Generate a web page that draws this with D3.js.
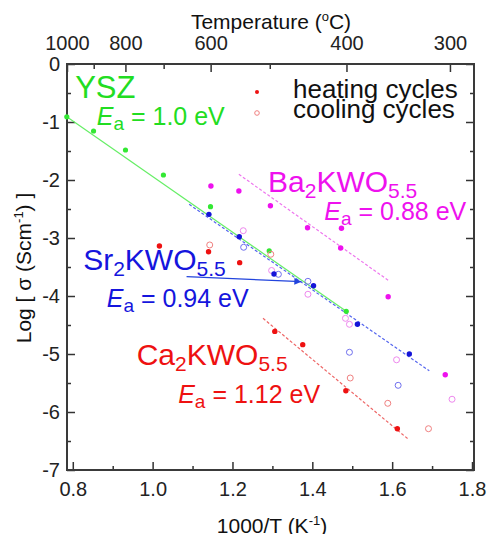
<!DOCTYPE html>
<html>
<head>
<meta charset="utf-8">
<script src="https://cdn.jsdelivr.net/npm/d3@7"></script>
<style>
  body { margin: 0; background: #fff; }
  text { font-family: "Liberation Sans", Arial, sans-serif; }
</style>
</head>
<body>
<div id="chart"></div>
<script>
// ---- data (x = 1000/T, y = log sigma) ----
var yszX = [0.785, 0.852, 0.932, 1.027, 1.145, 1.292, 1.485];
var yszY = [-0.91, -1.155, -1.483, -1.914, -2.46, -3.22, -4.264];

var baHeatX = [1.146, 1.216, 1.295, 1.388, 1.473, 1.471, 1.590, 1.733];
var baHeatY = [-2.103, -2.19, -2.443, -2.822, -2.833, -3.172, -4.012, -5.357];
var baCoolX = [1.227, 1.298, 1.389, 1.483, 1.493, 1.611, 1.750];
var baCoolY = [-2.874, -3.56, -3.97, -4.385, -4.488, -5.10, -5.78];

var srHeatX = [1.141, 1.217, 1.304, 1.403, 1.513, 1.643];
var srHeatY = [-2.592, -2.977, -3.62, -3.822, -4.488, -5.0];
var srCoolX = [1.228, 1.315, 1.389, 1.493, 1.615];
var srCoolY = [-3.16, -3.626, -3.747, -4.97, -5.54];

var caHeatX = [1.017, 1.140, 1.218, 1.306, 1.376, 1.484, 1.613];
var caHeatY = [-3.138, -3.236, -3.425, -4.61, -4.839, -5.633, -6.288];
var caCoolX = [1.143, 1.296, 1.495, 1.589, 1.691];
var caCoolY = [-3.12, -3.28, -5.414, -5.85, -6.288];

// fitted Arrhenius lines, end points
var baFitX = [1.216, 1.5915], baFitY = [-1.902, -3.736];
var srFitX = [1.0915, 1.693], srFitY = [-2.42, -5.29];
var caFitX = [1.2765, 1.639], caFitY = [-4.385, -6.46];

// axes
var xTicks = [0.8, 1.0, 1.2, 1.4, 1.6, 1.8];
var xMinor = [0.9, 1.1, 1.3, 1.5, 1.7];
var yTicks = [0, -1, -2, -3, -4, -5, -6, -7];
var yMinor = [-0.5, -1.5, -2.5, -3.5, -4.5, -5.5, -6.5];
var tempTicks = [1000, 800, 600, 400, 300];
var tempMinor = [900, 700, 500];

// arrow from the Sr label to the data
var arrowX = [1.085, 1.3725], arrowY = [-3.667, -3.753];

function pts(xs, ys) {
    return xs.map(function (d, i) { return { x: d, y: ys[i] }; });
}
function invT(t) { return 1000 / (t + 273.15); }

var svgWidth = 488;
var svgHeight = 534;
var margin = { top: 64, right: 14, bottom: 64, left: 67 };
var width = svgWidth - margin.left - margin.right;
var height = svgHeight - margin.top - margin.bottom;

var svg = d3.select("#chart")
    .append("svg")
    .attr("width", svgWidth)
    .attr("height", svgHeight);

var chartGroup = svg.append("g")
    .attr("transform", `translate(${margin.left}, ${margin.top})`);

var xScale = d3.scaleLinear().domain([0.7855, 1.805]).range([0, width]);
var yScale = d3.scaleLinear().domain([0, -7]).range([0, height]);

// ---- axes (inward ticks) ----
function styleAxis(g) {
    g.select(".domain").remove();
    g.selectAll(".tick line").attr("stroke", "#333").attr("stroke-width", 1.5);
    g.selectAll(".tick text").attr("fill", "#222").attr("font-size", "20px")
        .attr("font-family", "Liberation Sans, Arial, sans-serif");
}

chartGroup.append("g")
    .attr("transform", `translate(0, ${height})`)
    .call(d3.axisBottom(xScale).tickValues(xTicks).tickFormat(d3.format(".1f"))
        .tickSizeInner(-8).tickSizeOuter(0).tickPadding(12))
    .call(styleAxis);
chartGroup.append("g")
    .attr("transform", `translate(0, ${height})`)
    .call(d3.axisBottom(xScale).tickValues(xMinor).tickFormat("").tickSizeInner(-4).tickSizeOuter(0))
    .call(styleAxis);

chartGroup.append("g")
    .call(d3.axisLeft(yScale).tickValues(yTicks).tickFormat(function (d) { return String(d); })
        .tickSizeInner(-8).tickSizeOuter(0).tickPadding(7))
    .call(styleAxis);
chartGroup.append("g")
    .call(d3.axisLeft(yScale).tickValues(yMinor).tickFormat("").tickSizeInner(-4).tickSizeOuter(0))
    .call(styleAxis);

chartGroup.append("g")
    .attr("transform", `translate(${width}, 0)`)
    .call(d3.axisRight(yScale).tickValues(yTicks).tickFormat("").tickSizeInner(-8).tickSizeOuter(0))
    .call(styleAxis);
chartGroup.append("g")
    .attr("transform", `translate(${width}, 0)`)
    .call(d3.axisRight(yScale).tickValues(yMinor).tickFormat("").tickSizeInner(-4).tickSizeOuter(0))
    .call(styleAxis);

// top axis: temperature in degC
chartGroup.append("g")
    .call(d3.axisTop(xScale).tickValues(tempTicks.map(invT))
        .tickFormat(function (d, i) { return tempTicks[i]; })
        .tickSizeInner(-8).tickSizeOuter(0).tickPadding(14))
    .call(styleAxis);
chartGroup.append("g")
    .call(d3.axisTop(xScale).tickValues(tempMinor.map(invT)).tickFormat("")
        .tickSizeInner(-5).tickSizeOuter(0))
    .call(styleAxis);

// frame
chartGroup.append("rect")
    .attr("width", width)
    .attr("height", height)
    .attr("fill", "none")
    .attr("stroke", "#3a3a3a")
    .attr("stroke-width", 2);

// ---- lines ----
var line = d3.line().x(d => xScale(d.x)).y(d => yScale(d.y));

chartGroup.append("path")
    .datum(pts([yszX[0], yszX[yszX.length - 1]], [yszY[0], yszY[yszY.length - 1]]))
    .attr("d", line).attr("fill", "none").attr("stroke", "#66ee66").attr("stroke-width", 1.2);

var fits = [
    { xs: baFitX, ys: baFitY, color: "#ee77ee" },
    { xs: srFitX, ys: srFitY, color: "#5566ee" },
    { xs: caFitX, ys: caFitY, color: "#ee6666" }
];
fits.forEach(function (f) {
    chartGroup.append("path")
        .datum(pts(f.xs, f.ys))
        .attr("d", line).attr("fill", "none")
        .attr("stroke", f.color).attr("stroke-width", 1.2)
        .attr("stroke-dasharray", "3,2");
});

// ---- points ----
function filled(xs, ys, color, r) {
    chartGroup.selectAll(null).data(pts(xs, ys)).enter()
        .append("circle")
        .attr("cx", d => xScale(d.x)).attr("cy", d => yScale(d.y))
        .attr("r", r).attr("fill", color);
}
function open(xs, ys, color) {
    chartGroup.selectAll(null).data(pts(xs, ys)).enter()
        .append("circle")
        .attr("cx", d => xScale(d.x)).attr("cy", d => yScale(d.y))
        .attr("r", 3).attr("fill", "none").attr("stroke", color).attr("stroke-width", 1);
}

filled(yszX, yszY, "#33e833", 2.6);
open(baCoolX, baCoolY, "#ee88ee");
open(srCoolX, srCoolY, "#7070ee");
open(caCoolX, caCoolY, "#f08080");
filled(baHeatX, baHeatY, "#ee11ee", 2.7);
filled(srHeatX, srHeatY, "#1414d8", 2.7);
filled(caHeatX, caHeatY, "#ee1111", 2.7);

// ---- arrow ----
svg.append("defs").append("marker")
    .attr("id", "head")
    .attr("viewBox", "0 0 10 10")
    .attr("refX", 10).attr("refY", 5)
    .attr("markerWidth", 12).attr("markerHeight", 7)
    .attr("markerUnits", "userSpaceOnUse")
    .attr("orient", "auto")
    .append("path").attr("d", "M0,0 L10,5 L0,10 Z").attr("fill", "#2244dd");

chartGroup.append("path")
    .datum(pts(arrowX, arrowY))
    .attr("d", line).attr("fill", "none")
    .attr("stroke", "#2244dd").attr("stroke-width", 1.2)
    .attr("marker-end", "url(#head)");

// ---- labels ----
function formula(g, parts, size) {
    // parts: [text, isSub]
    var shifted = false;
    parts.forEach(function (p) {
        var s = g.append("tspan").text(p[0]);
        if (p[1] && !shifted) { s.attr("dy", 6).attr("font-size", size * 0.7 + "px"); shifted = true; }
        else if (!p[1] && shifted) { s.attr("dy", -6).attr("font-size", size + "px"); shifted = false; }
        else if (p[1]) { s.attr("font-size", size * 0.7 + "px"); }
    });
}
function compound(px, py, name, color) {
    var t = chartGroup.append("text")
        .attr("x", xScale(px)).attr("y", yScale(py))
        .attr("fill", color).attr("font-size", "30px");
    formula(t, [[name[0]], [name[1], true], ["KWO"], ["5.5", true]], 30);
}
function energy(px, py, value, color) {
    var t = chartGroup.append("text")
        .attr("x", xScale(px)).attr("y", yScale(py))
        .attr("fill", color).attr("font-size", "25px");
    t.append("tspan").attr("font-style", "italic").text("E");
    t.append("tspan").attr("dy", 5).attr("font-size", "19px").text("a");
    t.append("tspan").attr("dy", -5).text(" = " + value + " eV");
}

chartGroup.append("text")
    .attr("x", xScale(0.806)).attr("y", yScale(-0.586))
    .attr("fill", "#22dd22").attr("font-size", "31px").text("YSZ");
energy(0.86, -1.05, "1.0", "#22dd22");

compound(1.289, -2.2, ["Ba", "2"], "#ee11ee");
energy(1.43, -2.69, "0.88", "#ee11ee");

compound(0.826, -3.55, ["Sr", "2"], "#1515dd");
energy(0.885, -4.19, "0.94", "#1515dd");

compound(0.96, -5.19, ["Ca", "2"], "#ee1111");
energy(1.064, -5.845, "1.12", "#ee1111");

// legend
chartGroup.append("circle").attr("cx", 190).attr("cy", 28).attr("r", 2).attr("fill", "#ee1111");
chartGroup.append("circle").attr("cx", 190).attr("cy", 49).attr("r", 2.3)
    .attr("fill", "none").attr("stroke", "#f08080").attr("stroke-width", 1);
chartGroup.append("text").attr("x", 226).attr("y", 34).attr("font-size", "26px")
    .attr("fill", "#111").text("heating cycles");
chartGroup.append("text").attr("x", 226).attr("y", 54).attr("font-size", "26px")
    .attr("fill", "#111").text("cooling cycles");

// axis titles
var topTitle = svg.append("text")
    .attr("x", 271).attr("y", 29)
    .attr("text-anchor", "middle").attr("font-size", "21px").attr("fill", "#111");
topTitle.append("tspan").text("Temperature (");
topTitle.append("tspan").attr("dy", -8).attr("font-size", "13px").text("o");
topTitle.append("tspan").attr("dy", 8).text("C)");

var yTitle = svg.append("text")
    .attr("transform", "translate(31, 268) rotate(-90)")
    .attr("text-anchor", "middle").attr("font-size", "21px").attr("fill", "#111");
yTitle.append("tspan").text("Log [ σ (Scm");
yTitle.append("tspan").attr("dy", -8).attr("font-size", "13px").text("-1");
yTitle.append("tspan").attr("dy", 8).text(") ]");

var xTitle = svg.append("text")
    .attr("x", 272).attr("y", 533)
    .attr("text-anchor", "middle").attr("font-size", "21px").attr("fill", "#111");
xTitle.append("tspan").text("1000/T (K");
xTitle.append("tspan").attr("dy", -8).attr("font-size", "13px").text("-1");
xTitle.append("tspan").attr("dy", 8).text(")");
</script>
</body>
</html>
